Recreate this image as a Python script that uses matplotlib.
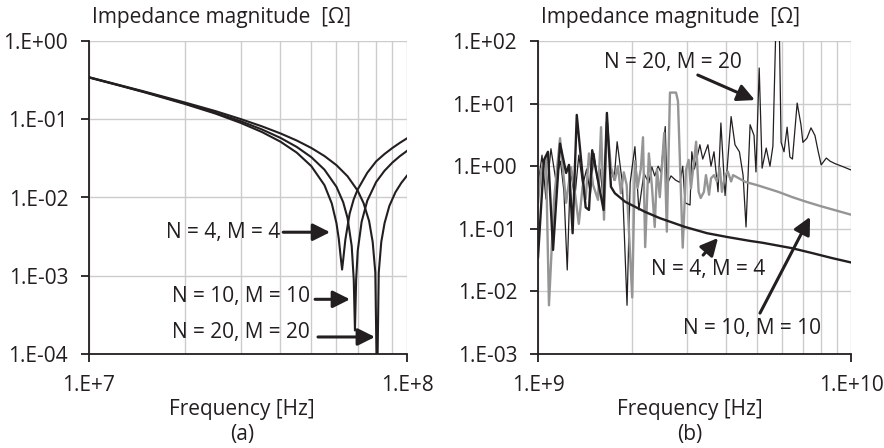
import numpy as np
import matplotlib.pyplot as plt
from matplotlib.ticker import FixedLocator, NullLocator, NullFormatter

plt.rcParams['font.family'] = ['Open Sans', 'DejaVu Sans']

# ---- (a) low band, frequency in units of 1e7 Hz, |Z| in ohm ----
fa_n4 = [1.0, 1.25, 1.5, 2.0, 2.5, 3.0, 3.5, 4.0, 4.5, 5.0, 5.5, 5.8, 6.0, 6.1, 6.2,
         6.25, 6.3, 6.4, 6.6, 6.8, 7.0, 7.5, 8.0, 8.5, 9.0, 9.5, 10.0]
za_n4 = [0.341, 0.269, 0.220, 0.157, 0.118, 0.0898, 0.0686, 0.0517, 0.0375, 0.0252,
         0.0144, 0.0084, 0.0047, 0.0030, 0.0016, 0.0012, 0.0016, 0.0029, 0.0062,
         0.0095, 0.0127, 0.0207, 0.029, 0.036, 0.043, 0.050, 0.057]

fa_n10 = [1.0, 1.5, 2.0, 2.5, 3.0, 3.5, 4.0, 4.5, 5.0, 5.5, 6.0, 6.3, 6.5, 6.7, 6.8,
          6.86, 6.92, 7.0, 7.2, 7.5, 8.0, 8.5, 9.0, 9.5, 10.0]
za_n10 = [0.343, 0.222, 0.160, 0.121, 0.0944, 0.0740, 0.0578, 0.0443, 0.0328, 0.0227,
          0.0137, 0.0087, 0.0055, 0.0024, 0.0009, 0.0002, 0.0009, 0.0021, 0.0049,
          0.0091, 0.0158, 0.0220, 0.0280, 0.0338, 0.0394]

fa_n20 = [1.0, 1.5, 2.0, 2.5, 3.0, 3.5, 4.0, 4.5, 5.0, 5.5, 6.0, 6.5, 7.0, 7.3, 7.6,
          7.8, 7.95, 8.05, 8.15, 8.3, 8.5, 8.8, 9.2, 9.6, 10.0]
za_n20 = [0.345, 0.225, 0.164, 0.127, 0.1005, 0.0811, 0.0659, 0.0535, 0.0430, 0.0339,
          0.0259, 0.0187, 0.0122, 0.0085, 0.0050, 0.0027, 0.0011, 0.00003, 0.0011,
          0.0027, 0.0047, 0.0078, 0.0117, 0.0154, 0.0190]

# ---- (b) high band, frequency in GHz ----
fb_n4 = [1.0, 1.045, 1.076, 1.117, 1.176, 1.23, 1.256, 1.29, 1.33, 1.42, 1.455, 1.49,
         1.62, 1.66, 1.71, 1.76, 1.90, 2.2, 2.45, 2.95, 3.47, 4.02, 4.76, 5.2, 6.48,
         7.51, 8.71, 10.0]
zb_n4 = [0.035, 1.26, 1.7, 0.046, 2.3, 0.78, 1.05, 0.085, 6.6, 0.22, 0.20, 1.8,
         0.20, 7.1, 0.47, 0.37, 0.27, 0.186, 0.148, 0.107, 0.085, 0.074, 0.064, 0.060,
         0.049, 0.041, 0.034, 0.029]

fb_n10 = [1.0, 1.023, 1.06, 1.084, 1.125, 1.176, 1.23, 1.275, 1.31, 1.35, 1.39, 1.42,
          1.455, 1.50, 1.555, 1.59, 1.625, 1.66, 1.71, 1.76, 1.80, 1.84, 1.88, 1.92,
          2.0, 2.04, 2.08, 2.13, 2.165, 2.2, 2.26, 2.31, 2.36, 2.40, 2.45, 2.53, 2.58,
          2.64, 2.76, 2.80, 2.90, 2.97, 3.03, 3.08, 3.15, 3.20, 3.26, 3.31, 3.39, 3.44,
          3.52, 3.57, 3.65, 3.73, 3.81, 3.87, 3.96, 4.04, 4.14, 4.20, 4.29, 4.6, 5.0,
          5.5, 5.85, 6.5, 7.2, 8.0, 9.0, 10.0]
zb_n10 = [0.26, 0.87, 1.4, 0.006, 0.29, 2.8, 0.26, 0.96, 0.4, 0.12, 0.5, 0.3,
          1.6, 0.5, 0.29, 4.2, 0.14, 5.0, 0.96, 0.6, 1.0, 0.37, 0.8, 0.5,
          0.008, 1.2, 0.45, 0.9, 2.9, 0.051, 1.6, 0.5, 0.107, 0.9, 0.32, 3.4, 0.09,
          15.0, 15.0, 11.0, 0.05, 0.87, 1.26, 0.44, 1.18, 2.46, 0.39, 0.31, 0.39, 0.72,
          0.35, 0.64, 0.72, 0.57, 0.93, 0.39, 0.72, 0.82, 0.57, 0.72, 0.68, 0.56, 0.50,
          0.43, 0.39, 0.32, 0.27, 0.23, 0.195, 0.168]

fb_n20 = [1.0, 1.03, 1.06, 1.10, 1.14, 1.18, 1.21, 1.24, 1.27, 1.31, 1.35, 1.39, 1.43,
          1.47, 1.51, 1.55, 1.58, 1.62, 1.66, 1.70, 1.75, 1.79, 1.86, 1.925, 1.97, 2.0,
          2.04, 2.10, 2.18, 2.26, 2.31, 2.36, 2.42, 2.47, 2.55, 2.58, 2.66, 2.75, 2.84,
          2.90, 2.95, 3.06, 3.10, 3.16, 3.29, 3.36, 3.49, 3.57, 3.65, 3.76, 3.84, 3.96,
          4.14, 4.26, 4.40, 4.52, 4.62, 4.76, 4.90, 4.97, 5.09, 5.20, 5.36, 5.51, 5.63,
          5.77, 5.89, 5.98, 6.11, 6.25, 6.38, 6.50, 6.73, 6.92, 7.02, 7.23, 7.45, 7.67,
          7.84, 8.03, 8.34, 8.58, 8.89, 9.44, 10.0]
zb_n20 = [0.5, 1.5, 0.3, 1.9, 0.6, 1.2, 0.4, 0.022, 0.9, 0.3, 1.5, 0.5, 0.9,
          0.35, 1.6, 0.6, 0.9, 0.25, 7.1, 1.0, 0.6, 2.46, 0.54, 0.006, 0.54, 0.98,
          2.05, 0.2, 0.77, 0.54, 0.98, 0.7, 1.0, 0.8, 4.3, 0.5, 0.7, 0.6, 0.55,
          1.0, 0.26, 0.24, 1.7, 0.9, 2.2, 1.3, 2.2, 1.0, 1.7, 0.39, 4.9, 0.34,
          6.2, 2.2, 1.7, 0.72, 0.107, 4.6, 3.1, 0.81, 37.0, 0.93, 1.95, 1.0, 2.1,
          300.0, 300.0, 2.4, 1.7, 4.2, 1.4, 1.3, 10.2, 4.6, 2.4, 2.8, 4.1, 3.1,
          1.8, 1.05, 1.35, 1.2, 1.1, 0.98, 0.87]

yticks_a = [1e-4, 1e-3, 1e-2, 1e-1, 1e0]
ylabels_a = ['1.E-04', '1.E-03', '1.E-02', '1.E-01', '1.E+00']
xticks_a = [1e7, 1e8]
xlabels_a = ['1.E+7', '1.E+8']
yticks_b = [1e-3, 1e-2, 1e-1, 1e0, 1e1, 1e2]
ylabels_b = ['1.E-03', '1.E-02', '1.E-01', '1.E+00', '1.E+01', '1.E+02']
xticks_b = [1e9, 1e10]
xlabels_b = ['1.E+9', '1.E+10']

ink = '#231f20'
grey = '#959595'
gridc = '#cccccc'
fs = 15

fig = plt.figure(figsize=(8.84, 4.48), dpi=100)
ax1 = fig.add_axes([89 / 884, 94 / 448, 318 / 884, 313 / 448])
ax2 = fig.add_axes([538 / 884, 94 / 448, 313 / 884, 313 / 448])


def style(ax, xt, xl, yt, yl):
    ax.set_xscale('log')
    ax.set_yscale('log')
    ax.set_xlim(xt[0], xt[-1])
    ax.set_ylim(yt[0], yt[-1])
    ax.set_xticks(xt, xl)
    ax.set_yticks(yt, yl)
    ax.xaxis.set_minor_locator(FixedLocator([xt[0] * k for k in range(2, 10)]))
    ax.xaxis.set_minor_formatter(NullFormatter())
    ax.yaxis.set_minor_locator(NullLocator())
    ax.grid(which='major', color=gridc, lw=1.0)
    ax.grid(which='minor', axis='x', color=gridc, lw=1.0)
    ax.set_axisbelow(True)
    for s in ['top', 'right']:
        ax.spines[s].set_visible(False)
    for s in ['left', 'bottom']:
        ax.spines[s].set_color(ink)
        ax.spines[s].set_linewidth(1.3)
    ax.tick_params(which='major', direction='out', length=6, width=1.3,
                   color=ink, labelsize=fs, labelcolor=ink)
    ax.tick_params(axis='y', pad=9)
    ax.tick_params(axis='x', pad=9)
    ax.tick_params(which='minor', length=0)
    ax.text(0.01, 1.04, 'Impedance magnitude  [Ω]', transform=ax.transAxes,
            ha='left', va='bottom', fontsize=fs, color=ink)


style(ax1, xticks_a, xlabels_a, yticks_a, ylabels_a)
style(ax2, xticks_b, xlabels_b, yticks_b, ylabels_b)

# (a)
for f, z in [(fa_n4, za_n4), (fa_n10, za_n10), (fa_n20, za_n20)]:
    ax1.plot(np.array(f) * 1e7, z, color=ink, lw=1.5)

arr = dict(arrowstyle='-|>', color=ink, lw=2.2, mutation_scale=26, shrinkA=0, shrinkB=0)
ax1.text(3.99e7, 3.6e-3, 'N = 4, M = 4', ha='right', va='center', fontsize=fs, color=ink)
ax1.annotate('', xy=(5.73e7, 3.6e-3), xytext=(4.08e7, 3.6e-3), arrowprops=arr)
ax1.text(4.95e7, 5.5e-4, 'N = 10, M = 10', ha='right', va='center', fontsize=fs, color=ink)
ax1.annotate('', xy=(6.62e7, 5.0e-4), xytext=(5.14e7, 5.0e-4), arrowprops=arr)
ax1.text(4.95e7, 1.86e-4, 'N = 20, M = 20', ha='right', va='center', fontsize=fs, color=ink)
ax1.annotate('', xy=(7.93e7, 1.65e-4), xytext=(5.25e7, 1.65e-4), arrowprops=arr)

# (b)
ax2.plot(np.array(fb_n20) * 1e9, zb_n20, color=ink, lw=0.9)
ax2.plot(np.array(fb_n10) * 1e9, zb_n10, color=grey, lw=1.7)
ax2.plot(np.array(fb_n4) * 1e9, zb_n4, color=ink, lw=1.7)

ax2.text(2.7e9, 44.6, 'N = 20, M = 20', ha='center', va='center', fontsize=fs, color=ink)
ax2.annotate('', xy=(4.93e9, 11.4), xytext=(3.24e9, 28.6), arrowprops=arr)
ax2.text(3.49e9, 0.022, 'N = 4, M = 4', ha='center', va='center', fontsize=fs, color=ink)
ax2.annotate('', xy=(3.76e9, 0.0713), xytext=(3.37e9, 0.038), arrowprops=arr)
ax2.text(4.83e9, 0.0026, 'N = 10, M = 10', ha='center', va='center', fontsize=fs, color=ink)
ax2.annotate('', xy=(7.4e9, 0.155), xytext=(5.12e9, 0.0045), arrowprops=arr)

for cx, tag in [(242, '(a)'), (690, '(b)')]:
    fig.text(cx / 884, 1 - 409 / 448, 'Frequency [Hz]', ha='center', va='center',
             fontsize=fs, color=ink)
    fig.text(cx / 884, 1 - 434 / 448, tag, ha='center', va='center',
             fontsize=fs, color=ink)

fig.savefig('out.png', dpi=100)
